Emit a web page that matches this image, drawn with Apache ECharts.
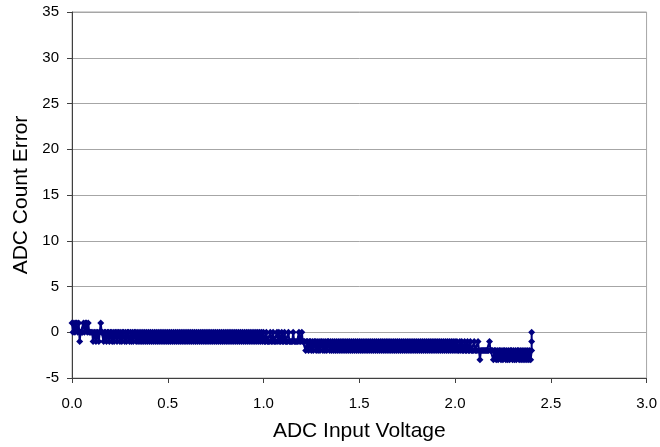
<!DOCTYPE html>
<html>
<head>
<meta charset="utf-8">
<script src="https://cdn.jsdelivr.net/npm/echarts@6/dist/echarts.min.js"></script>
<style>
html,body{margin:0;padding:0;background:#fff;}
#chart{width:660px;height:447px;}
</style>
</head>
<body>
<div id="chart"></div>
<script>
// ADC input voltage (V)
var voltage = [
0.000,0.005,0.010,0.015,0.020,0.025,0.030,0.035,0.040,0.045,0.050,0.055,0.060,0.065,0.070,0.075,0.080,0.085,0.090,0.095,
0.100,0.105,0.110,0.115,0.120,0.125,0.130,0.135,0.140,0.145,0.150,0.155,0.160,0.165,0.170,0.175,0.180,0.185,0.190,0.195,
0.200,0.205,0.210,0.215,0.220,0.225,0.230,0.235,0.240,0.245,0.250,0.255,0.260,0.265,0.270,0.275,0.280,0.285,0.290,0.295,
0.300,0.305,0.310,0.315,0.320,0.325,0.330,0.335,0.340,0.345,0.350,0.355,0.360,0.365,0.370,0.375,0.380,0.385,0.390,0.395,
0.400,0.405,0.410,0.415,0.420,0.425,0.430,0.435,0.440,0.445,0.450,0.455,0.460,0.465,0.470,0.475,0.480,0.485,0.490,0.495,
0.500,0.505,0.510,0.515,0.520,0.525,0.530,0.535,0.540,0.545,0.550,0.555,0.560,0.565,0.570,0.575,0.580,0.585,0.590,0.595,
0.600,0.605,0.610,0.615,0.620,0.625,0.630,0.635,0.640,0.645,0.650,0.655,0.660,0.665,0.670,0.675,0.680,0.685,0.690,0.695,
0.700,0.705,0.710,0.715,0.720,0.725,0.730,0.735,0.740,0.745,0.750,0.755,0.760,0.765,0.770,0.775,0.780,0.785,0.790,0.795,
0.800,0.805,0.810,0.815,0.820,0.825,0.830,0.835,0.840,0.845,0.850,0.855,0.860,0.865,0.870,0.875,0.880,0.885,0.890,0.895,
0.900,0.905,0.910,0.915,0.920,0.925,0.930,0.935,0.940,0.945,0.950,0.955,0.960,0.965,0.970,0.975,0.980,0.985,0.990,0.995,
1.000,1.005,1.010,1.015,1.020,1.025,1.030,1.035,1.040,1.045,1.050,1.055,1.060,1.065,1.070,1.075,1.080,1.085,1.090,1.095,
1.100,1.105,1.110,1.115,1.120,1.125,1.130,1.135,1.140,1.145,1.150,1.155,1.160,1.165,1.170,1.175,1.180,1.185,1.190,1.195,
1.200,1.205,1.210,1.215,1.220,1.225,1.230,1.235,1.240,1.245,1.250,1.255,1.260,1.265,1.270,1.275,1.280,1.285,1.290,1.295,
1.300,1.305,1.310,1.315,1.320,1.325,1.330,1.335,1.340,1.345,1.350,1.355,1.360,1.365,1.370,1.375,1.380,1.385,1.390,1.395,
1.400,1.405,1.410,1.415,1.420,1.425,1.430,1.435,1.440,1.445,1.450,1.455,1.460,1.465,1.470,1.475,1.480,1.485,1.490,1.495,
1.500,1.505,1.510,1.515,1.520,1.525,1.530,1.535,1.540,1.545,1.550,1.555,1.560,1.565,1.570,1.575,1.580,1.585,1.590,1.595,
1.600,1.605,1.610,1.615,1.620,1.625,1.630,1.635,1.640,1.645,1.650,1.655,1.660,1.665,1.670,1.675,1.680,1.685,1.690,1.695,
1.700,1.705,1.710,1.715,1.720,1.725,1.730,1.735,1.740,1.745,1.750,1.755,1.760,1.765,1.770,1.775,1.780,1.785,1.790,1.795,
1.800,1.805,1.810,1.815,1.820,1.825,1.830,1.835,1.840,1.845,1.850,1.855,1.860,1.865,1.870,1.875,1.880,1.885,1.890,1.895,
1.900,1.905,1.910,1.915,1.920,1.925,1.930,1.935,1.940,1.945,1.950,1.955,1.960,1.965,1.970,1.975,1.980,1.985,1.990,1.995,
2.000,2.005,2.010,2.015,2.020,2.025,2.030,2.035,2.040,2.045,2.050,2.055,2.060,2.065,2.070,2.075,2.080,2.085,2.090,2.095,
2.100,2.105,2.110,2.115,2.120,2.125,2.130,2.135,2.140,2.145,2.150,2.155,2.160,2.165,2.170,2.175,2.180,2.185,2.190,2.195,
2.200,2.205,2.210,2.215,2.220,2.225,2.230,2.235,2.240,2.245,2.250,2.255,2.260,2.265,2.270,2.275,2.280,2.285,2.290,2.295,
2.300,2.305,2.310,2.315,2.320,2.325,2.330,2.335,2.340,2.345,2.350,2.355,2.360,2.365,2.370,2.375,2.380,2.385,2.390,2.395,
2.400,2.400,2.400
];
// ADC count error
var countError = [
1,0,1,0,1,1,0,1,-1,0,0,0,1,0,1,1,0,1,0,0,
0,0,-1,0,0,-1,0,0,-1,0,1,0,0,-1,0,0,-1,0,0,-1,
0,0,-1,0,-1,0,0,-1,0,0,-1,0,-1,0,0,-1,0,-1,0,0,
-1,0,-1,0,-1,0,0,-1,0,-1,0,-1,0,-1,0,-1,0,-1,0,-1,
0,-1,0,-1,0,-1,0,-1,0,-1,0,-1,0,-1,0,-1,0,-1,0,-1,
0,-1,0,-1,0,-1,0,-1,0,-1,0,-1,0,-1,0,-1,0,-1,0,-1,
0,-1,0,-1,0,-1,0,-1,0,-1,0,-1,0,-1,0,-1,0,-1,0,-1,
0,-1,0,-1,0,-1,0,-1,0,-1,0,-1,0,-1,0,-1,0,-1,0,-1,
0,-1,0,-1,0,-1,0,-1,0,-1,0,-1,0,-1,0,-1,0,-1,0,-1,
0,-1,0,-1,0,-1,0,-1,0,-1,0,-1,0,-1,0,-1,0,-1,0,-1,
0,-1,-1,0,-1,-1,-1,0,-1,-1,0,-1,-1,-1,0,-1,0,-1,-1,0,
-1,-1,0,-1,-1,-1,0,-1,-1,-1,-1,0,-1,-1,-1,-1,-1,0,-1,-1,
0,-1,-1,-1,-2,-1,-1,-2,-1,-1,-2,-1,-2,-1,-1,-2,-1,-2,-1,-2,
-1,-1,-2,-1,-2,-1,-2,-1,-1,-2,-1,-2,-1,-2,-1,-2,-1,-2,-1,-2,
-1,-2,-1,-2,-1,-2,-1,-2,-1,-2,-1,-2,-1,-2,-1,-2,-1,-2,-1,-2,
-1,-2,-1,-2,-1,-2,-1,-2,-1,-2,-1,-2,-1,-2,-1,-2,-1,-2,-1,-2,
-1,-2,-1,-2,-1,-2,-1,-2,-1,-2,-1,-2,-1,-2,-1,-2,-1,-2,-1,-2,
-1,-2,-1,-2,-1,-2,-1,-2,-1,-2,-1,-2,-1,-2,-1,-2,-1,-2,-1,-2,
-1,-2,-1,-2,-1,-2,-1,-2,-1,-2,-1,-2,-1,-2,-1,-2,-1,-2,-1,-2,
-1,-2,-1,-2,-1,-2,-1,-2,-1,-2,-1,-2,-1,-2,-1,-2,-1,-2,-1,-2,
-1,-2,-1,-2,-2,-1,-2,-1,-2,-2,-1,-2,-2,-1,-2,-2,-1,-2,-2,-2,
-1,-2,-2,-2,-1,-2,-3,-2,-2,-2,-2,-2,-2,-2,-2,-2,-1,-2,-2,-2,
-3,-2,-2,-3,-2,-3,-2,-2,-3,-2,-3,-2,-2,-3,-2,-3,-2,-3,-2,-2,
-3,-2,-3,-2,-3,-2,-2,-3,-2,-3,-2,-3,-2,-3,-2,-3,-2,-3,-2,-3,
-2,-1,0
];
var xTicks = {min: 0, max: 3, interval: 0.5};
var yTicks = {min: -5, max: 35, interval: 5};

var points = voltage.map(function (v, i) { return [v, countError[i]]; });
var FONT = 'Liberation Sans, Arial, sans-serif';
var chart = echarts.init(document.getElementById('chart'));
chart.setOption({
  animation: false,
  backgroundColor: '#ffffff',
  grid: {left: 72, right: 11, top: 12, bottom: 68, show: true, borderColor: '#a6a6a6', borderWidth: 1},
  xAxis: {
    type: 'value', min: xTicks.min, max: xTicks.max, interval: xTicks.interval,
    name: 'ADC Input Voltage', nameLocation: 'middle', nameGap: 43,
    nameTextStyle: {fontFamily: FONT, fontSize: 21, color: '#000'},
    axisLine: {onZero: false, lineStyle: {color: '#404040', width: 1}},
    axisTick: {show: true, inside: false, length: 5, lineStyle: {color: '#404040'}},
    axisLabel: {fontFamily: FONT, fontSize: 15, color: '#000', margin: 18,
      formatter: function (v) { return v.toFixed(1); }},
    splitLine: {show: false}
  },
  yAxis: {
    type: 'value', min: yTicks.min, max: yTicks.max, interval: yTicks.interval,
    name: 'ADC Count Error', nameLocation: 'middle', nameGap: 39,
    nameTextStyle: {fontFamily: FONT, fontSize: 21, color: '#000'},
    axisLine: {show: true, onZero: false, lineStyle: {color: '#404040', width: 1}},
    axisTick: {show: true, inside: false, length: 5, lineStyle: {color: '#404040'}},
    axisLabel: {fontFamily: FONT, fontSize: 15, color: '#000', margin: 13},
    splitLine: {show: true, lineStyle: {color: '#a6a6a6', width: 1}}
  },
  series: [{
    type: 'line',
    data: points,
    symbol: 'diamond',
    symbolSize: 7,
    showAllSymbol: true,
    lineStyle: {color: '#000080', width: 2},
    itemStyle: {color: '#000080'},
    emphasis: {disabled: true}
  }]
});
</script>
</body>
</html>
